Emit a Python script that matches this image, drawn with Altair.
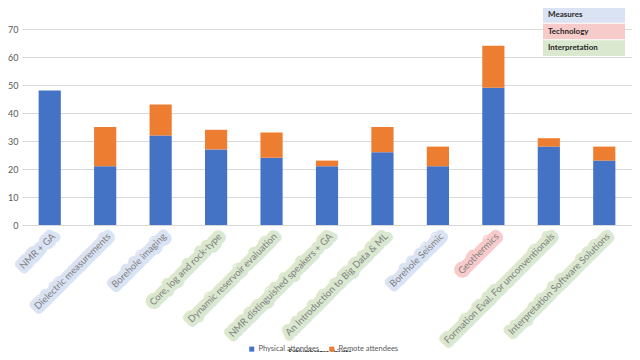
import altair as alt
import pandas as pd

categories = [
    "NMR + GA",
    "Dielectric measurements",
    "Borehole imaging",
    "Core, log and rock-type",
    "Dynamic reservoir evaluation",
    "NMR distinguished speakers + GA",
    "An Introduction to Big Data & ML",
    "Borehole Seismic",
    "Geothermics",
    "Formation Eval. For unconventionals",
    "Interpretation Software Solutions",
]
groups = ["Measures", "Measures", "Measures", "Interpretation", "Interpretation",
          "Interpretation", "Interpretation", "Measures", "Technology",
          "Interpretation", "Interpretation"]
physical = [48, 21, 32, 27, 24, 21, 26, 21, 49, 28, 23]
remote = [0, 14, 11, 7, 9, 2, 9, 7, 15, 3, 5]
series_names = ["Physical attendees", "Remote attendees"]
series_colors = ["#4472c4", "#ed7d31"]
key_names = ["Measures", "Technology", "Interpretation"]
key_colors = ["#dae3f3", "#f8cbcb", "#d9e8cf"]
y_ticks = [0, 10, 20, 30, 40, 50, 60, 70]

rows = []
for c, p, r in zip(categories, physical, remote):
    rows.append({"cat": c, "series": series_names[0], "value": p, "ord": 0})
    rows.append({"cat": c, "series": series_names[1], "value": r, "ord": 1})
long = pd.DataFrame(rows)
labdf = pd.DataFrame({"cat": categories, "group": groups})
keydf = pd.DataFrame({"group": key_names})

FONT = "Lato"
xscale = alt.Scale(paddingInner=0.6, paddingOuter=0.3)

bars = alt.Chart(long).mark_bar().encode(
    x=alt.X("cat:N", sort=categories, scale=xscale,
            axis=alt.Axis(labels=False, ticks=False, title=None, domain=False)),
    y=alt.Y("value:Q", stack="zero", scale=alt.Scale(domain=[0, 70], nice=False),
            axis=alt.Axis(values=y_ticks, title=None, ticks=False, domain=False,
                          labelFont=FONT, labelFontSize=9, labelColor="#595959",
                          labelPadding=4, gridColor="#d9d9d9")),
    fill=alt.Fill("series:N", sort=series_names,
                  scale=alt.Scale(domain=series_names, range=series_colors),
                  legend=alt.Legend(orient="none", legendX=226, legendY=316,
                                    direction="horizontal", title=None,
                                    symbolType="square", symbolSize=25,
                                    labelFont=FONT, labelFontSize=7.5,
                                    labelColor="#595959", labelOffset=3,
                                    columnPadding=8, padding=0)),
    order=alt.Order("ord:Q"),
)

lab_bg = alt.Chart(labdf).mark_text(
    angle=315, align="right", baseline="middle", dx=2.8, dy=2.8,
    font=FONT, fontSize=9.5, strokeWidth=9, strokeJoin="round", fillOpacity=0,
).encode(
    x=alt.X("cat:N", sort=categories, scale=xscale, axis=None),
    y=alt.value(206),
    text="cat:N",
    stroke=alt.Stroke("group:N", scale=alt.Scale(domain=key_names, range=key_colors),
                      legend=None),
)

lab_fg = alt.Chart(labdf).mark_text(
    angle=315, align="right", baseline="middle", dx=2.8, dy=2.8,
    font=FONT, fontSize=9.5, color="#7f7f7f",
).encode(
    x=alt.X("cat:N", sort=categories, scale=xscale, axis=None),
    y=alt.value(206),
    text="cat:N",
)

key_y = alt.Y("group:N", sort=key_names,
              scale=alt.Scale(range=[-22, 27], paddingInner=0.06, paddingOuter=0),
              axis=None)
key_rect = alt.Chart(keydf).mark_rect().encode(
    x=alt.value(521), x2=alt.value(603), y=key_y,
    color=alt.Color("group:N", scale=alt.Scale(domain=key_names, range=key_colors),
                    legend=None),
)
key_text = alt.Chart(keydf).mark_text(
    align="left", baseline="middle", font=FONT, fontSize=8, fontWeight="bold",
    color="#262626",
).encode(x=alt.value(526), y=key_y, text="group:N")

footer = alt.Chart(pd.DataFrame({"t": ["Schlumberger-Private"]})).mark_text(
    font=FONT, fontSize=6.5, fontWeight="bold", color="#262626", baseline="middle",
).encode(x=alt.value(298), y=alt.value(324), text="t:N")

bottom_line = alt.Chart(pd.DataFrame({"t": [0]})).mark_rule(
    color="#c8c8c8", strokeWidth=1.5
).encode(x=alt.value(-14), x2=alt.value(610), y=alt.value(329))

chart = alt.layer(lab_bg, lab_fg, bars, key_rect, key_text, footer, bottom_line).resolve_scale(
    y="independent"
).properties(
    width=610, height=196,
    title=alt.Title("Technical sessions 2015 - 2019", font=FONT, fontSize=13,
                    fontWeight="normal", color="#595959", anchor="middle",
                    offset=6, dx=-6),
    autosize=alt.AutoSizeParams(type="none"),
    padding={"left": 14, "top": 21, "right": 0, "bottom": 127},
).configure_view(stroke=None)

chart.save("out.html", embed_options={"renderer": "svg", "actions": False})
